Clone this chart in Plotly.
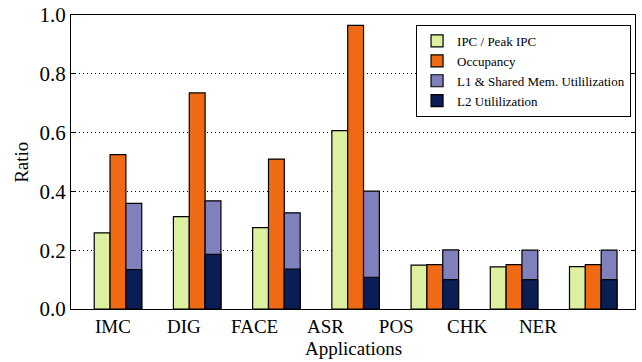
import plotly.graph_objects as go

apps = ["IMC", "DIG", "FACE", "ASR", "POS", "CHK", "NER"]
ipc = [0.259, 0.314, 0.277, 0.607, 0.149, 0.143, 0.144]
occupancy = [0.525, 0.735, 0.510, 0.965, 0.151, 0.151, 0.151]
l1_shared = [0.359, 0.368, 0.327, 0.401, 0.201, 0.200, 0.200]
l2 = [0.134, 0.186, 0.136, 0.108, 0.100, 0.100, 0.100]

group_pos = list(range(len(apps)))
# tick labels in the reference sit at a slightly smaller spacing than the groups
tick_pos = [-0.063 + 0.894 * i for i in range(len(apps))]
y_ticks = [0.0, 0.2, 0.4, 0.6, 0.8, 1.0]

FONT = "Liberation Serif"
W = 0.2
line = dict(color="black", width=1.2)

fig = go.Figure()
fig.add_trace(go.Bar(x=group_pos, y=ipc, name="IPC / Peak IPC", width=W, offset=-0.3,
                     marker=dict(color="#dcf0a0", line=line)))
fig.add_trace(go.Bar(x=group_pos, y=occupancy, name="Occupancy", width=W, offset=-0.1,
                     marker=dict(color="#f06a14", line=line)))
fig.add_trace(go.Bar(x=group_pos, y=l1_shared, name="L1 & Shared Mem. Utililization", width=W, offset=0.1,
                     marker=dict(color="#8080bc", line=line)))
fig.add_trace(go.Bar(x=group_pos, y=l2, name="L2 Utililization", width=W, offset=0.1,
                     marker=dict(color="#0a1e55", line=line)))

fig.update_layout(
    width=642, height=362,
    margin=dict(l=71, r=7, t=15, b=52.5),
    barmode="overlay",
    plot_bgcolor="white", paper_bgcolor="white",
    font=dict(family=FONT, color="black", size=19),
    showlegend=True,
    legend=dict(x=0.993, y=0.966, xanchor="right", yanchor="top",
                bordercolor="black", borderwidth=1, bgcolor="white",
                font=dict(size=13, family=FONT, color="black"), tracegroupgap=0,
                itemwidth=30),
    annotations=[
        dict(text="Applications", xref="paper", yref="paper", x=0.5, y=-0.093,
             xanchor="center", yanchor="top", showarrow=False,
             font=dict(size=19, family=FONT, color="black")),
        dict(text="Ratio", xref="paper", yref="paper", x=-0.089, y=0.5,
             xanchor="center", yanchor="middle", textangle=-90, showarrow=False,
             font=dict(size=19, family=FONT, color="black")),
    ],
)
fig.update_xaxes(
    range=[-0.593, 6.527], tickvals=tick_pos, ticktext=apps,
    showline=True, linecolor="black", linewidth=1, mirror=True,
    ticks="", showgrid=False, zeroline=False, automargin=False,
    tickfont=dict(size=19, family=FONT, color="black"),
)
fig.update_yaxes(
    range=[0, 1.0], tickvals=y_ticks, tickformat=".1f",
    showline=True, linecolor="black", linewidth=1, mirror="ticks",
    ticks="inside", ticklen=4, tickcolor="black",
    showgrid=True, gridcolor="black", griddash="1px,3px", gridwidth=1,
    zeroline=False, automargin=False,
    tickfont=dict(size=21, family=FONT, color="black"),
)

fig.write_html("out.html", config={"displayModeBar": False},
               post_script="document.body.style.margin='0';")
